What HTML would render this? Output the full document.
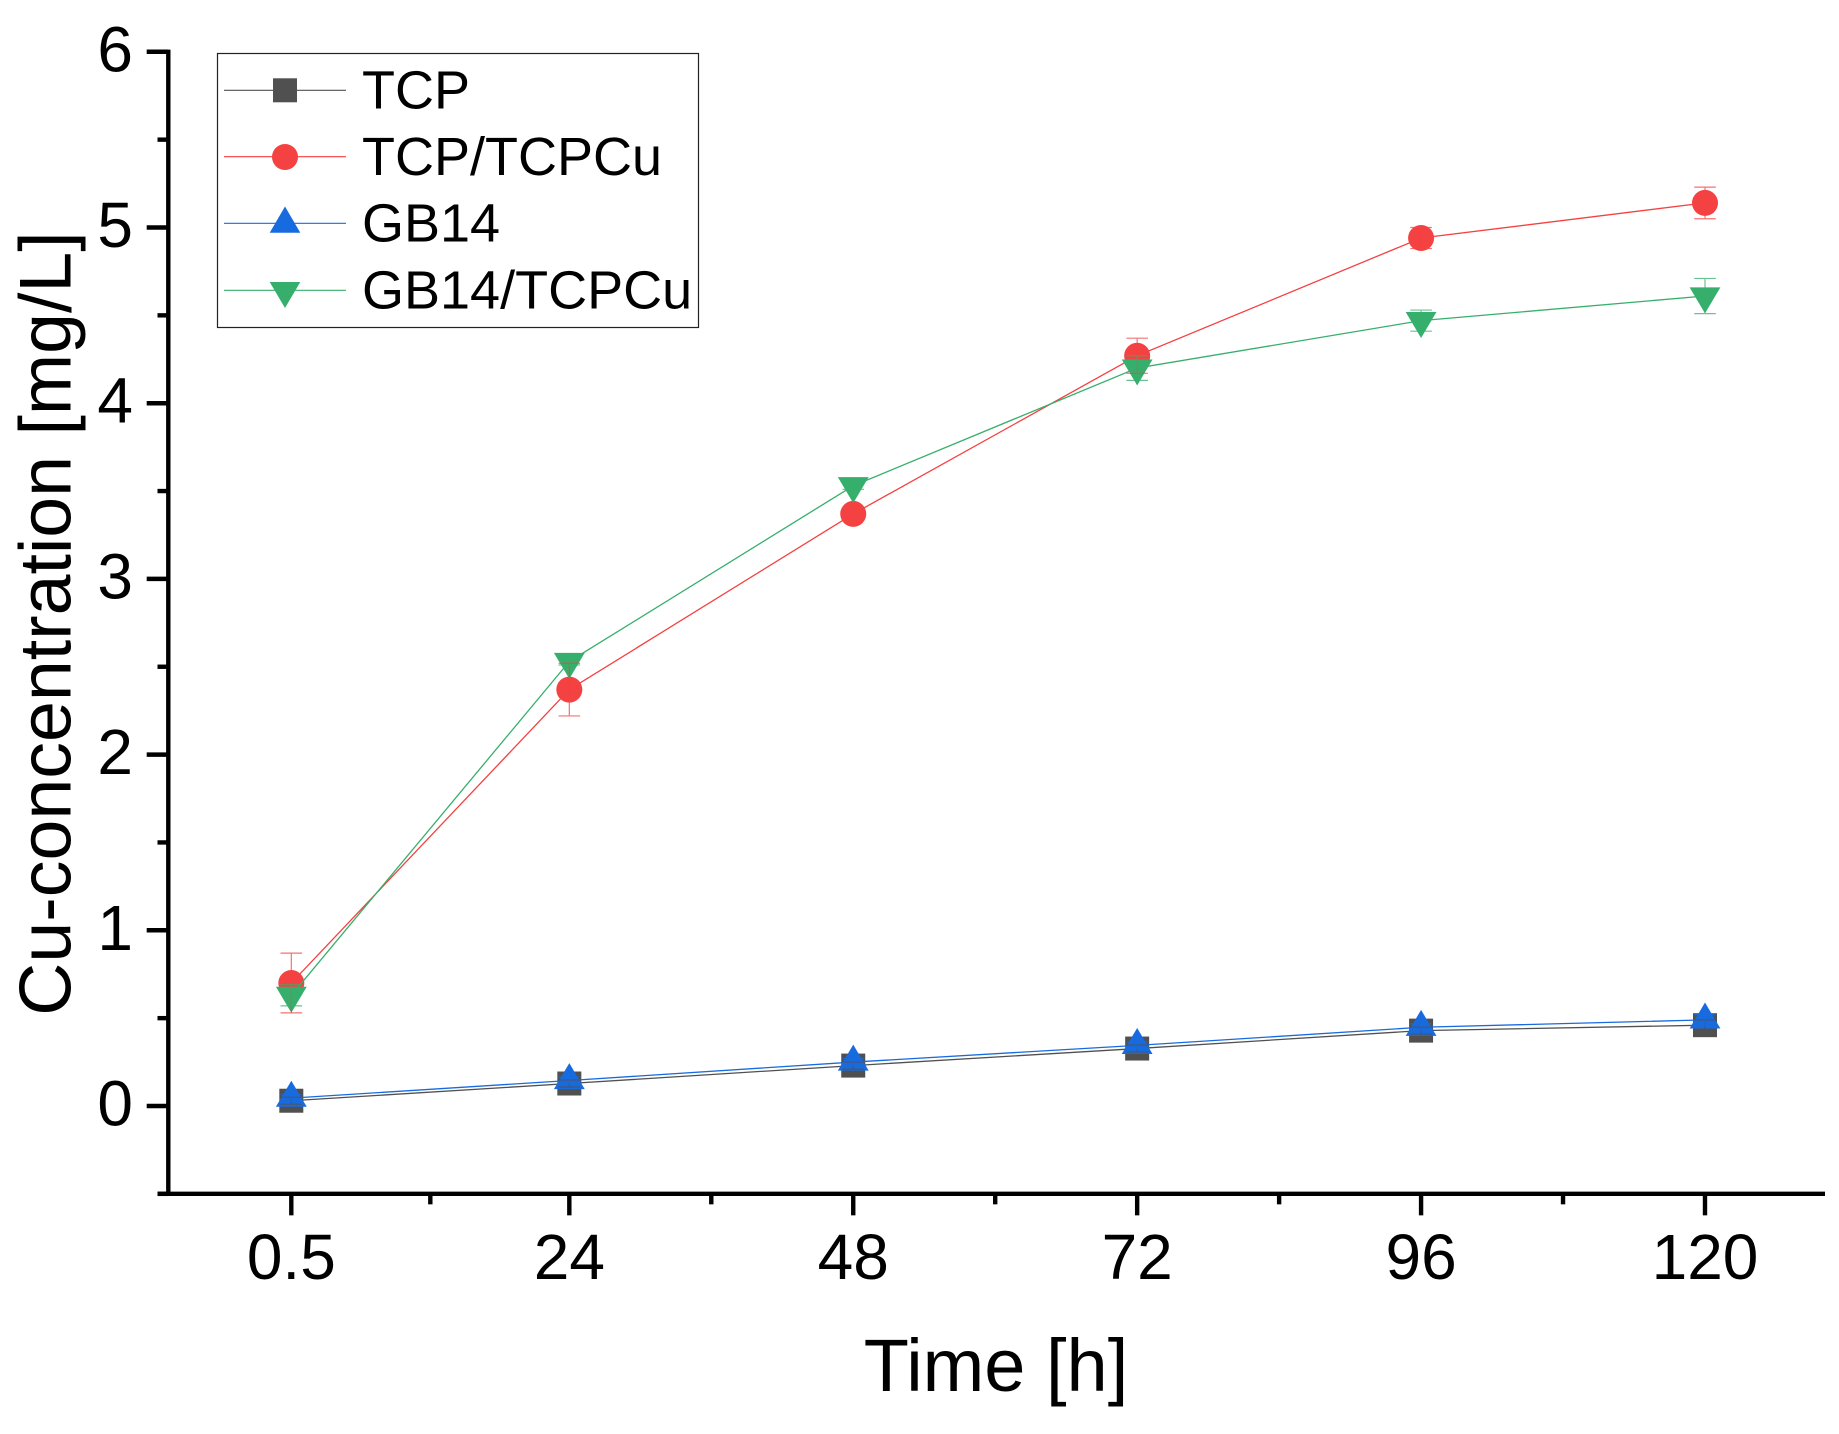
<!DOCTYPE html>
<html lang="en">
<head>
<meta charset="utf-8">
<title>Cu-concentration over time</title>
<style>
html,body{margin:0;padding:0;background:#fff;}
svg{display:block;font-family:"Liberation Sans",Arial,sans-serif;}
</style>
</head>
<body>
<svg id="chart" xmlns="http://www.w3.org/2000/svg" width="1839" height="1434" viewBox="0 0 1839 1434">
  <rect x="0" y="0" width="1839" height="1434" fill="#ffffff"/>
  <g id="axes"></g>
  <g id="series"></g>
  <g id="errors"></g>
  <text x="996" y="1391" font-size="74" text-anchor="middle" fill="#000">Time [h]</text>
  <text transform="translate(70.7 623.5) rotate(-90)" font-size="73.5" text-anchor="middle" fill="#000">Cu-concentration [mg/L]</text>
  <g>
    <rect x="217.5" y="53.5" width="481" height="274" fill="#fff" stroke="#222" stroke-width="1.2"/>
    <g>
      <line x1="224" x2="346" y1="90.3" y2="90.3" stroke="#505050" stroke-width="1.2"/>
      <rect x="273" y="78.3" width="24" height="24" fill="#505050"/>
      <text x="362" y="108.3" font-size="54" fill="#000">TCP</text>
    </g>
    <g>
      <line x1="224" x2="346" y1="156.7" y2="156.7" stroke="#f44141" stroke-width="1.2"/>
      <circle cx="285" cy="157" r="13" fill="#f44141"/>
      <text x="362" y="175" font-size="54" fill="#000">TCP/TCPCu</text>
    </g>
    <g>
      <line x1="224" x2="346" y1="223.3" y2="223.3" stroke="#186bdf" stroke-width="1.2"/>
      <polygon points="285,206.5 300.3,232.7 269.7,232.7" fill="#186bdf"/>
      <text x="362" y="241.5" font-size="54" fill="#000">GB14</text>
    </g>
    <g>
      <line x1="224" x2="346" y1="290.3" y2="290.3" stroke="#36af6c" stroke-width="1.2"/>
      <polygon points="269.7,282 300.3,282 285,308" fill="#36af6c"/>
      <text x="362" y="308.5" font-size="54" fill="#000">GB14/TCPCu</text>
    </g>
  </g>
</svg>
<script>
var categories = [0.5, 24, 48, 72, 96, 120];
var xTickLabels = ['0.5', '24', '48', '72', '96', '120'];
var xMinorTicks = [12.25, 36, 60, 84, 108];
var yTicks = [0, 1, 2, 3, 4, 5, 6];
var yMinorTicks = [-0.5, 0.5, 1.5, 2.5, 3.5, 4.5, 5.5];

var tcpValues = [0.03, 0.128, 0.23, 0.327, 0.429, 0.46];
var tcpErrors = [0.02, 0.02, 0.02, 0.02, 0.02, 0.03];
var tcpCuValues = [0.70, 2.37, 3.37, 4.27, 4.94, 5.14];
var tcpCuErrors = [0.17, 0.15, 0.02, 0.10, 0.06, 0.09];
var gb14Values = [0.045, 0.145, 0.25, 0.345, 0.448, 0.49];
var gb14Errors = [0.02, 0.02, 0.02, 0.02, 0.02, 0.03];
var gb14CuValues = [0.63, 2.53, 3.53, 4.20, 4.47, 4.61];
var gb14CuErrors = [0.06, 0.02, 0.02, 0.07, 0.06, 0.10];

var seriesNames = ['tcp', 'tcp-tcpcu', 'gb14', 'gb14-tcpcu'];
var seriesValues = [tcpValues, tcpCuValues, gb14Values, gb14CuValues];
var seriesErrors = [tcpErrors, tcpCuErrors, gb14Errors, gb14CuErrors];
var seriesColors = ['#505050', '#f44141', '#186bdf', '#36af6c'];
var seriesShapes = ['square', 'circle', 'up', 'down'];

var NS = 'http://www.w3.org/2000/svg';
function xScale(t) { return 1705 - (120 - t) * 11.83; }
function yScale(v) { return 1106 - v * 175.7; }

function mk(parent, tag, attrs) {
  var el = document.createElementNS(NS, tag);
  for (var k in attrs) { el.setAttribute(k, attrs[k]); }
  parent.appendChild(el);
  return el;
}

var axes = document.getElementById('axes');
var seriesLayer = document.getElementById('series');
var errorLayer = document.getElementById('errors');
var el;

el = mk(axes, 'line', {x1: 168.3, x2: 168.3, y1: yScale(6) - 2.2, y2: yScale(-0.5), stroke: '#000', 'stroke-width': 4.4});



el = mk(axes, 'line', {x1: 157.5, x2: 1825, y1: yScale(-0.5), y2: yScale(-0.5), stroke: '#000', 'stroke-width': 4.4});



yTicks.forEach(function (v) {
  var t = mk(axes, 'line', {x1: 146.7, x2: 168.3, y1: yScale(v), y2: yScale(v), stroke: '#000', 'stroke-width': 4.5});
  
  
  var l = mk(axes, 'text', {x: 133, y: yScale(v) + 19.5, 'font-size': 64, 'text-anchor': 'end', fill: '#000'});
  l.textContent = String(v);
  
  
});

yMinorTicks.forEach(function (v) {
  var t = mk(axes, 'line', {x1: 157.5, x2: 168.3, y1: yScale(v), y2: yScale(v), stroke: '#000', 'stroke-width': 4.4});
  
  
});

categories.forEach(function (c, i) {
  var t = mk(axes, 'line', {x1: xScale(c), x2: xScale(c), y1: yScale(-0.5), y2: yScale(-0.5) + 21.5, stroke: '#000', 'stroke-width': 4.4});
  
  
  var l = mk(axes, 'text', {x: xScale(c), y: 1279, 'font-size': 64, 'text-anchor': 'middle', fill: '#000'});
  l.textContent = xTickLabels[i];
  
  
});

xMinorTicks.forEach(function (c) {
  var t = mk(axes, 'line', {x1: xScale(c), x2: xScale(c), y1: yScale(-0.5), y2: yScale(-0.5) + 10.5, stroke: '#000', 'stroke-width': 4.4});
  
  
});

function drawMarker(parent, shape, cx, cy, color) {
  if (shape === 'square') {
    return mk(parent, 'rect', {x: cx - 12, y: cy - 12, width: 24, height: 24, fill: color});
  }
  if (shape === 'circle') {
    return mk(parent, 'circle', {cx: cx, cy: cy, r: 13, fill: color});
  }
  if (shape === 'up') {
    return mk(parent, 'polygon', {points: cx + ',' + (cy - 17.4) + ' ' + (cx + 15.4) + ',' + (cy + 8.6) + ' ' + (cx - 15.4) + ',' + (cy + 8.6), fill: color});
  }
  return mk(parent, 'polygon', {points: (cx - 15.4) + ',' + (cy - 8.6) + ' ' + (cx + 15.4) + ',' + (cy - 8.6) + ' ' + cx + ',' + (cy + 17.4), fill: color});
}

seriesNames.forEach(function (name, s) {
  var vals = seriesValues[s];
  var errs = seriesErrors[s];
  var color = seriesColors[s];
  var pts = categories.map(function (c, i) { return xScale(c) + ',' + yScale(vals[i]); }).join(' ');

  var line = mk(seriesLayer, 'polyline', {points: pts, fill: 'none', stroke: color, 'stroke-width': 1.3, 'stroke-linejoin': 'round'});
  
  

  categories.forEach(function (c, i) {
    var m = drawMarker(seriesLayer, seriesShapes[s], xScale(c), yScale(vals[i]), color);
    
    

    var cx = xScale(c);
    var top = yScale(vals[i] + errs[i]);
    var bot = yScale(vals[i] - errs[i]);
    var d = 'M' + cx + ' ' + top + 'V' + bot + 'M' + (cx - 10.8) + ' ' + top + 'H' + (cx + 10.8) + 'M' + (cx - 10.8) + ' ' + bot + 'H' + (cx + 10.8);
    var e = mk(errorLayer, 'path', {d: d, fill: 'none', stroke: color, 'stroke-width': 1.2, opacity: 0.75});
    
    
  });
});
</script>
</body>
</html>
